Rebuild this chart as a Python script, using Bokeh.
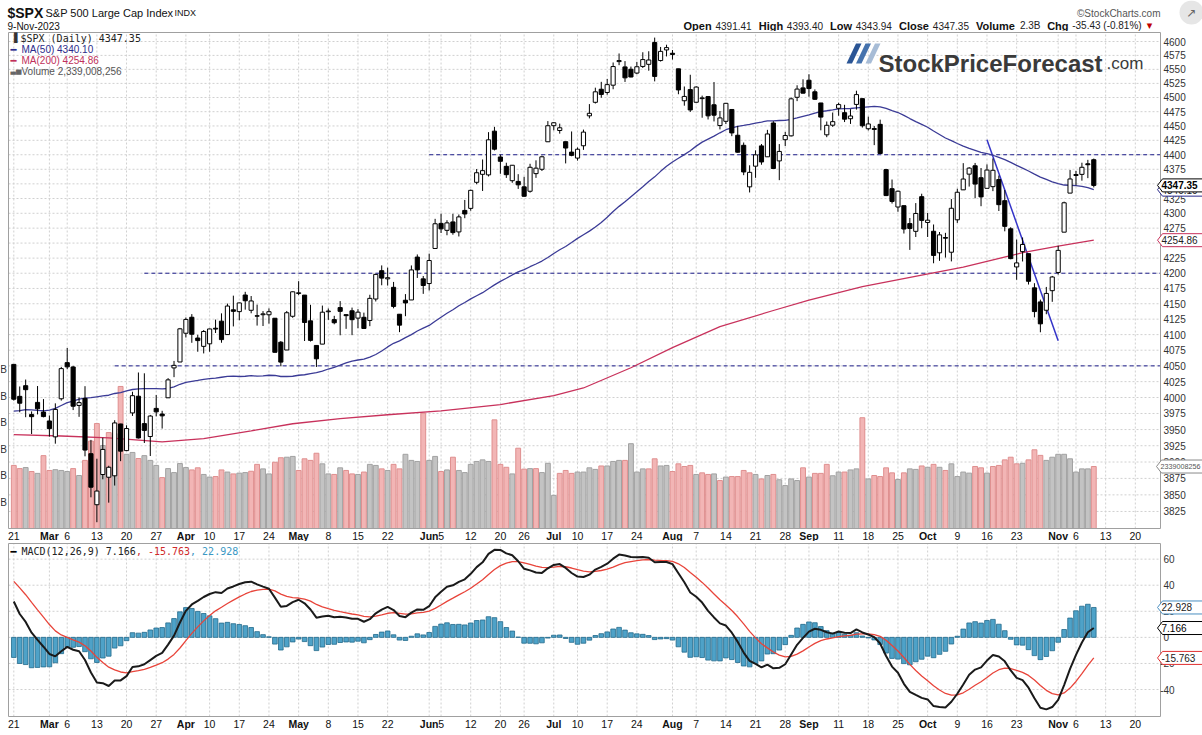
import numpy as np
import pandas as pd
from bokeh.plotting import figure
from bokeh.layouts import column
from bokeh.models import Range1d, LinearScale
from bokeh.core.properties import value
from bokeh.embed import file_html
from bokeh.resources import INLINE

# ---------------------------------------------------------------- data
month_days = [
    ("2023-02", [21, 22, 23, 24, 27, 28]),
    ("2023-03", [1, 2, 3, 6, 7, 8, 9, 10, 13, 14, 15, 16, 17, 20, 21, 22, 23, 24, 27, 28, 29, 30, 31]),
    ("2023-04", [3, 4, 5, 6, 10, 11, 12, 13, 14, 17, 18, 19, 20, 21, 24, 25, 26, 27, 28]),
    ("2023-05", [1, 2, 3, 4, 5, 8, 9, 10, 11, 12, 15, 16, 17, 18, 19, 22, 23, 24, 25, 26, 30, 31]),
    ("2023-06", [1, 2, 5, 6, 7, 8, 9, 12, 13, 14, 15, 16, 20, 21, 22, 23, 26, 27, 28, 29, 30]),
    ("2023-07", [3, 5, 6, 7, 10, 11, 12, 13, 14, 17, 18, 19, 20, 21, 24, 25, 26, 27, 28, 31]),
    ("2023-08", [1, 2, 3, 4, 7, 8, 9, 10, 11, 14, 15, 16, 17, 18, 21, 22, 23, 24, 25, 28, 29, 30, 31]),
    ("2023-09", [1, 5, 6, 7, 8, 11, 12, 13, 14, 15, 18, 19, 20, 21, 22, 25, 26, 27, 28, 29]),
    ("2023-10", [2, 3, 4, 5, 6, 9, 10, 11, 12, 13, 16, 17, 18, 19, 20, 23, 24, 25, 26, 27, 30, 31]),
    ("2023-11", [1, 2, 3, 6, 7, 8, 9]),
]
dates = [f"{m}-{d:02d}" for m, ds in month_days for d in ds]

opens = [4052.35, 4001.83, 4018.60, 3973.24, 3992.36, 3977.19, 3963.34, 3938.68, 3998.02, 4055.15,
         4048.26, 3987.55, 3998.66, 3912.77, 3835.12, 3880.90, 3876.74, 3878.93, 3958.69, 3917.47,
         3975.89, 4002.04, 3959.21, 3939.21, 3982.93, 3974.13, 3999.53, 4046.74, 4056.18, 4102.20,
         4128.03, 4094.50, 4081.15, 4085.20, 4110.29, 4121.72, 4100.04, 4140.11, 4137.17, 4164.26,
         4139.33, 4130.48, 4132.14, 4132.07, 4126.43, 4087.78, 4075.29, 4129.63, 4166.79, 4164.10,
         4122.25, 4082.61, 4084.73, 4136.98, 4124.25, 4143.74, 4132.24, 4138.54, 4126.65, 4127.95,
         4122.85, 4157.68, 4204.15, 4190.78, 4176.80, 4132.96, 4155.71, 4156.16, 4226.71, 4190.74,
         4183.03, 4241.01, 4282.99, 4271.34, 4285.47, 4268.69, 4304.88, 4308.32, 4352.61, 4366.29,
         4365.33, 4440.95, 4396.11, 4380.01, 4355.40, 4354.17, 4344.84, 4337.36, 4367.48, 4374.94,
         4422.44, 4450.48, 4442.04, 4422.62, 4404.54, 4394.23, 4415.55, 4467.69, 4491.50, 4514.61,
         4508.86, 4521.78, 4563.87, 4554.38, 4550.16, 4543.39, 4555.19, 4558.96, 4598.26, 4565.75,
         4584.82, 4578.83, 4550.93, 4494.27, 4513.96, 4491.58, 4498.03, 4501.57, 4487.16, 4450.69,
         4458.13, 4478.87, 4433.79, 4416.32, 4344.88, 4380.28, 4415.33, 4396.44, 4455.16, 4389.38,
         4426.03, 4432.75, 4500.34, 4517.01, 4530.60, 4510.06, 4490.35, 4434.55, 4451.30, 4480.98,
         4473.27, 4462.65, 4487.78, 4497.98, 4445.13, 4445.41, 4452.81, 4374.36, 4341.74, 4310.62,
         4312.88, 4282.63, 4269.65, 4328.18, 4284.52, 4269.75, 4233.83, 4259.31, 4234.79, 4289.02,
         4339.75, 4366.59, 4380.94, 4360.49, 4342.37, 4345.23, 4357.35, 4321.36, 4273.85, 4210.40,
         4235.79, 4232.42, 4175.99, 4152.94, 4139.39, 4171.33, 4201.27, 4268.26, 4334.23, 4364.27,
         4366.21, 4384.37, 4391.41]
highs = [4052.35, 4017.37, 4028.30, 3978.25, 4018.05, 3997.50, 3971.73, 3990.84, 4048.29, 4078.49,
         4050.00, 4000.41, 4017.81, 3934.05, 3905.05, 3937.29, 3894.26, 3964.46, 3958.91, 3956.62,
         4009.08, 4039.49, 4038.20, 3972.74, 4003.83, 3979.20, 4030.59, 4057.85, 4110.75, 4127.66,
         4133.13, 4099.69, 4107.32, 4109.50, 4124.26, 4134.37, 4150.26, 4163.19, 4151.72, 4169.48,
         4162.57, 4148.57, 4138.02, 4142.41, 4126.43, 4089.67, 4138.24, 4170.06, 4186.92, 4164.10,
         4148.30, 4082.61, 4147.02, 4142.30, 4130.35, 4154.28, 4132.80, 4143.74, 4141.25, 4135.54,
         4164.67, 4199.13, 4212.91, 4209.22, 4185.68, 4132.96, 4165.74, 4212.87, 4231.10, 4195.44,
         4232.43, 4290.67, 4299.28, 4288.33, 4299.19, 4298.01, 4322.62, 4340.13, 4375.37, 4391.82,
         4439.20, 4448.47, 4400.15, 4386.22, 4382.25, 4366.55, 4362.06, 4384.42, 4390.35, 4398.39,
         4458.48, 4456.46, 4454.06, 4422.62, 4440.39, 4412.60, 4443.64, 4488.34, 4517.38, 4527.76,
         4532.85, 4562.30, 4578.43, 4564.74, 4555.00, 4563.41, 4580.62, 4582.47, 4607.07, 4590.16,
         4594.22, 4584.62, 4550.93, 4519.49, 4540.34, 4519.84, 4503.31, 4502.44, 4527.37, 4476.23,
         4490.33, 4478.87, 4449.95, 4421.17, 4381.82, 4407.55, 4418.59, 4443.18, 4458.30, 4418.46,
         4439.56, 4500.14, 4521.65, 4532.26, 4541.25, 4514.29, 4490.35, 4457.81, 4473.53, 4490.77,
         4487.11, 4479.39, 4511.99, 4497.98, 4466.36, 4449.85, 4461.03, 4375.70, 4357.40, 4338.51,
         4313.01, 4292.07, 4317.27, 4333.15, 4300.58, 4281.15, 4268.50, 4267.13, 4324.10, 4341.73,
         4385.46, 4378.64, 4385.85, 4377.10, 4383.33, 4393.57, 4364.20, 4339.54, 4276.56, 4255.84,
         4259.38, 4232.42, 4183.60, 4156.70, 4177.47, 4195.55, 4245.64, 4319.72, 4373.62, 4372.21,
         4386.26, 4391.20, 4393.40]
lows = [3995.19, 3976.90, 3969.19, 3943.08, 3973.55, 3968.98, 3939.05, 3928.16, 3995.17, 4044.61,
        3980.31, 3969.76, 3908.70, 3846.32, 3808.86, 3873.63, 3838.24, 3864.11, 3901.27, 3916.89,
        3971.19, 3936.17, 3929.22, 3909.16, 3970.49, 3951.53, 3999.53, 4032.10, 4056.18, 4095.31,
        4086.87, 4072.56, 4069.84, 4072.55, 4102.61, 4086.94, 4099.40, 4113.20, 4123.18, 4140.36,
        4134.49, 4114.57, 4113.86, 4117.77, 4071.38, 4049.35, 4075.29, 4127.18, 4164.12, 4089.72,
        4088.86, 4048.28, 4084.73, 4123.81, 4116.65, 4098.92, 4109.29, 4099.12, 4110.27, 4109.86,
        4113.62, 4153.69, 4180.20, 4179.68, 4142.54, 4103.98, 4129.73, 4156.16, 4192.18, 4166.15,
        4171.64, 4241.01, 4266.82, 4263.09, 4263.96, 4261.07, 4291.70, 4304.37, 4349.31, 4337.85,
        4362.60, 4407.44, 4367.19, 4360.14, 4351.82, 4341.34, 4328.08, 4335.00, 4360.22, 4371.97,
        4422.44, 4442.29, 4436.61, 4385.05, 4397.40, 4389.92, 4408.46, 4463.23, 4489.36, 4499.56,
        4504.90, 4514.59, 4557.48, 4527.56, 4535.79, 4541.29, 4552.42, 4547.58, 4528.56, 4564.01,
        4573.14, 4567.53, 4505.75, 4485.54, 4474.55, 4491.15, 4464.39, 4461.33, 4457.92, 4443.98,
        4453.44, 4432.19, 4403.55, 4364.83, 4335.31, 4360.30, 4382.77, 4396.44, 4375.55, 4356.29,
        4414.98, 4431.68, 4493.59, 4507.39, 4501.35, 4496.01, 4442.38, 4430.46, 4448.38, 4467.89,
        4456.83, 4453.52, 4478.69, 4447.21, 4442.11, 4416.61, 4401.38, 4329.17, 4316.49, 4302.70,
        4265.98, 4238.63, 4260.21, 4274.86, 4260.21, 4216.45, 4220.48, 4225.91, 4219.55, 4283.79,
        4339.64, 4345.34, 4325.43, 4311.97, 4342.37, 4337.54, 4303.84, 4269.69, 4223.03, 4189.22,
        4219.43, 4181.42, 4127.90, 4103.78, 4132.94, 4153.12, 4197.74, 4268.26, 4334.23, 4347.53,
        4355.41, 4359.76, 4343.94]
closes = [3997.34, 3991.05, 4012.32, 3970.04, 3982.24, 3970.15, 3951.39, 3981.35, 4045.64, 4048.42,
          3986.37, 3992.01, 3918.32, 3861.59, 3855.76, 3919.29, 3891.93, 3960.28, 3916.64, 3951.57,
          4002.87, 3936.97, 3948.72, 3970.99, 3977.53, 3971.27, 4027.81, 4050.83, 4109.31, 4124.51,
          4100.60, 4090.38, 4105.02, 4109.11, 4108.94, 4091.95, 4146.22, 4137.64, 4151.32, 4154.87,
          4154.52, 4129.79, 4133.52, 4137.04, 4071.63, 4055.99, 4135.35, 4169.48, 4167.87, 4119.58,
          4090.75, 4061.22, 4136.25, 4138.12, 4119.17, 4137.64, 4130.62, 4124.08, 4136.28, 4109.90,
          4158.77, 4198.05, 4191.98, 4192.63, 4145.58, 4115.24, 4151.28, 4205.45, 4205.52, 4179.83,
          4221.02, 4282.37, 4273.79, 4283.85, 4267.52, 4293.93, 4298.86, 4338.93, 4369.01, 4372.59,
          4425.84, 4409.59, 4388.71, 4365.69, 4381.89, 4348.33, 4328.82, 4378.41, 4376.86, 4396.44,
          4450.38, 4455.59, 4446.82, 4411.59, 4398.95, 4409.53, 4439.26, 4472.16, 4510.04, 4505.42,
          4522.79, 4554.98, 4565.72, 4534.87, 4536.34, 4554.64, 4567.46, 4566.75, 4537.41, 4582.23,
          4588.96, 4576.73, 4513.39, 4501.89, 4478.03, 4518.44, 4499.38, 4467.71, 4468.83, 4464.05,
          4489.72, 4437.86, 4404.33, 4370.36, 4369.71, 4399.77, 4387.55, 4436.01, 4376.31, 4405.71,
          4433.31, 4497.63, 4514.87, 4507.66, 4515.77, 4496.83, 4465.48, 4451.14, 4457.49, 4487.46,
          4461.90, 4467.44, 4505.10, 4450.32, 4453.53, 4443.95, 4402.20, 4330.00, 4320.06, 4337.44,
          4273.53, 4274.51, 4299.70, 4288.05, 4288.39, 4229.45, 4263.75, 4258.19, 4308.50, 4335.66,
          4358.24, 4376.95, 4349.61, 4327.78, 4373.63, 4373.20, 4314.60, 4278.00, 4224.16, 4217.04,
          4247.68, 4186.77, 4137.23, 4117.37, 4166.82, 4193.80, 4237.86, 4317.78, 4358.34, 4365.98,
          4378.38, 4382.78, 4347.35]
# daily volume, billions of shares
volumes_b = [2.38, 2.26, 2.30, 2.15, 2.08, 2.75, 2.19, 2.22, 2.19, 2.15,
             2.26, 2.00, 2.57, 3.30, 3.96, 3.13, 3.62, 3.58, 5.36, 2.80,
             2.87, 2.64, 2.75, 2.57, 2.38, 1.92, 2.26, 2.11, 2.45, 2.30,
             2.21, 2.29, 2.04, 1.94, 1.96, 2.21, 2.13, 2.06, 2.09, 2.11,
             2.16, 2.42, 2.25, 2.06, 2.50, 2.67, 2.69, 2.72, 2.19, 2.63,
             2.57, 2.84, 2.44, 2.06, 2.04, 2.29, 2.19, 2.06, 2.04, 2.13,
             2.42, 2.38, 2.25, 2.19,
             2.42, 2.25, 2.80, 2.57, 2.53, 4.35, 2.57, 2.72, 2.15, 2.21,
             2.69, 2.19, 2.11, 2.42, 2.53, 2.59, 2.53, 4.10, 2.42, 2.31,
             2.06, 3.03, 2.24, 2.26, 2.26, 2.11, 2.46, 1.25, 2.08, 2.19,
             2.08, 2.13, 2.13, 2.29, 2.23, 2.36, 2.36, 2.53, 2.57, 2.57,
             3.20, 2.13, 2.25, 2.25, 2.63, 2.36, 2.38, 2.15, 2.44, 2.34,
             2.38, 2.04, 2.10, 2.04, 2.06, 1.81, 1.94, 1.96, 1.96, 2.19,
             2.10, 2.04,
             1.87, 2.00, 2.04, 1.84, 1.62, 1.87, 1.81, 2.29, 1.94, 2.08,
             2.08, 2.42, 1.99, 2.13, 2.13, 2.21, 2.25, 4.18, 1.87, 2.00,
             1.96, 2.29, 2.10, 1.85, 2.10, 2.25, 2.23, 2.36, 2.31, 2.42,
             2.31, 2.19,
             2.44, 1.96, 2.13, 2.09, 2.34, 2.29, 2.09, 2.34, 2.38, 2.59,
             2.69, 2.44, 2.46, 2.59, 2.97, 2.76, 2.57, 2.69, 2.80, 2.80,
             2.63, 2.13, 2.25, 2.25, 2.339]
# closes of the 49 sessions before the first bar (for MA50 / MACD)
prior_closes = [3963.51, 3934.38, 3990.56, 4019.65, 3995.32, 3895.75, 3852.36, 3817.66, 3821.62, 3878.44,
                3822.39, 3844.82, 3829.25, 3783.22, 3849.28, 3839.50,
                3824.14, 3852.97, 3808.10, 3895.08, 3892.09, 3919.25, 3969.61, 3983.17, 3999.09, 3990.97,
                3928.86, 3898.85, 3972.61, 4019.81, 4016.95, 4016.22, 4060.43, 4070.56, 4017.77, 4076.60,
                4119.21, 4179.76, 4136.48, 4111.08, 4164.00, 4117.86, 4081.50, 4090.46, 4137.29, 4136.13,
                4147.60, 4090.41, 4079.09]
# MA(200) (session number, value)
ma200_session = [0, 8, 16, 25, 32, 40, 47, 55, 63, 72, 82, 91, 96, 104, 111, 119, 128, 134, 143, 153, 160, 170, 176, 182]
ma200_value = [3942, 3940, 3937, 3931, 3936, 3948, 3959, 3967, 3973, 3979, 3989, 4003, 4015, 4047, 4079, 4113,
               4139, 4156, 4178, 4197, 4210, 4234, 4245, 4254.86]
ma50_last = 4340.10
volume_last = "2,339,008,256"
macd_last = (7.166, -15.763, 22.928)

tick_dates = ["2023-02-21", "2023-03-01", "2023-03-06", "2023-03-13", "2023-03-20", "2023-03-27",
              "2023-04-03", "2023-04-10", "2023-04-17", "2023-04-24", "2023-05-01", "2023-05-08",
              "2023-05-15", "2023-05-22", "2023-06-01", "2023-06-05", "2023-06-12", "2023-06-20",
              "2023-06-26", "2023-07-03", "2023-07-10", "2023-07-17", "2023-07-24", "2023-08-01",
              "2023-08-07", "2023-08-14", "2023-08-21", "2023-08-28", "2023-09-01", "2023-09-11",
              "2023-09-18", "2023-09-25", "2023-10-02", "2023-10-09", "2023-10-16", "2023-10-23",
              "2023-11-01", "2023-11-06", "2023-11-13", "2023-11-20"]
tick_text = ["21", "Mar", "6", "13", "20", "27", "Apr", "10", "17", "24", "May", "8", "15", "22",
             "Jun", "5", "12", "20", "26", "Jul", "10", "17", "24", "Aug", "7", "14", "21", "28",
             "Sep", "11", "18", "25", "Oct", "9", "16", "23", "Nov", "6", "13", "20"]
month_names = {"Mar", "Apr", "May", "Jun", "Jul", "Aug", "Sep", "Oct", "Nov"}

support_levels = [4400, 4200, 4050]
support_from = ["2023-06-01", "2023-03-23", "2023-03-16"]
trend_dates = ["2023-10-16", "2023-11-01"]
trend_prices = [4426.0, 4090.0]
price_ticks = list(range(3825, 4601, 25))
macd_ticks = [-40, -20, 0, 20, 40, 60]
volume_ticks_b = [1, 2, 3, 4, 5, 6]

assert len(dates) == len(opens) == len(highs) == len(lows) == len(closes) == len(volumes_b) == 183

# ---------------------------------------------------------------- derived
n = len(dates)
idx = np.arange(n)
last_day = np.datetime64(dates[-1])


def session_of(d):
    if d in dates:
        return dates.index(d)
    return n - 1 + int(np.busday_count(last_day, np.datetime64(d)))


allc = pd.Series(prior_closes + closes)
ma50 = allc.rolling(50).mean().iloc[-n:].to_numpy()
ema12 = allc.ewm(span=12, adjust=False).mean()
ema26 = allc.ewm(span=26, adjust=False).mean()
macd_all = ema12 - ema26
sig_all = macd_all.ewm(span=9, adjust=False).mean()
macd = macd_all.iloc[-n:].to_numpy()
sig = sig_all.iloc[-n:].to_numpy()
hist = macd - sig

o = np.array(opens); c = np.array(closes); h = np.array(highs); l = np.array(lows)
prevc = np.concatenate([[prior_closes[-1]], c[:-1]])
up_body = c >= o
vol_down = c < prevc
tick_pos = [session_of(d) for d in tick_dates]

# ---------------------------------------------------------------- geometry (page pixels)
W = 1202
X0, DX = 13.3, 5.934              # page x of first session, px per session
FR_L, FR_R = 8, 1160               # plot frame left / right
HDR_H = 31
P_FIG_TOP, P_FIG_BOT = 31, 541     # price figure
P_FR_TOP, P_FR_BOT = 32, 528       # price frame
PTOP, PBOT = 4616.3, 3799.5        # price at frame top / bottom (log)
VOL0_Y, VOL_PX = 528, 26.5         # volume baseline, px per billion
M_FIG_TOP, M_FIG_BOT = 541, 735
M_FR_TOP, M_FR_BOT = 543, 716
M_TOP, M_BOT = 72.0, -60.7
FONT = "Liberation Sans"
MONO = "DejaVu Sans Mono"
GRID = "#d0d0d0"
KLOG = np.log(PTOP / PBOT) / (P_FR_BOT - P_FR_TOP)


def sx(px):
    return (px - X0) / DX


def py(px):          # page y -> price
    return float(PTOP * np.exp(-(px - P_FR_TOP) * KLOG))


def ypp(v):          # price -> page y
    return P_FR_TOP + np.log(PTOP / v) / KLOG


def vy(px):          # page y -> volume (B)
    return (VOL0_Y - px) / VOL_PX


def my(px):          # page y -> macd value
    return M_TOP - (px - M_FR_TOP) / (M_FR_BOT - M_FR_TOP) * (M_TOP - M_BOT)


def ymp(v):
    return M_FR_TOP + (M_TOP - v) / (M_TOP - M_BOT) * (M_FR_BOT - M_FR_TOP)


XR = Range1d(sx(0), sx(W))


def txt(fig, x, y, t, size, color="#111", style="normal", align="left", font=FONT, baseline="middle", **kw):
    fig.text(x=[x], y=[y], text=[t], text_font=value(font), text_font_size=value(size),
             text_color=color, text_font_style=style, text_align=align, text_baseline=baseline, **kw)


def value_box(fig, page_y, text, border, to_y, color="#222", style="normal", yr="default",
              size="10px", x0=1157):
    x1 = 1205
    ys = [page_y, page_y - 6.5, page_y - 6.5, page_y + 6.5, page_y + 6.5]
    xs = [x0, x0 + 5, x1, x1, x0 + 5]
    fig.patch(x=[sx(v) for v in xs], y=[to_y(v) for v in ys], fill_color="white",
              line_color=border, line_width=1, y_range_name=yr)
    txt(fig, sx(x0 + 4), to_y(page_y), text, size, color=color, style=style, y_range_name=yr)


# ---------------------------------------------------------------- header
hd = figure(width=W, height=HDR_H, x_range=Range1d(0, W), y_range=Range1d(HDR_H, 0),
            x_axis_location=None, y_axis_location=None, toolbar_location=None,
            output_backend="svg", min_border=0, outline_line_color=None)
hd.grid.visible = False

txt(hd, 7, 12, "$SPX", "14px", style="bold")
txt(hd, 45, 12, "S&P 500 Large Cap Index", "11px")
txt(hd, 174, 12, "INDX", "9px")
txt(hd, 7, 25.5, "9-Nov-2023", "10px")
txt(hd, 1160, 12.5, "\u00a9StockCharts.com", "10px", color="#555", align="right")
hd.scatter(x=[1191], y=[12], size=24, marker="circle", fill_color="#e6e6e6", line_color=None)
txt(hd, 1191, 12.5, "\u2197", "12px", color="#666", align="center", font="DejaVu Sans")

WR = {ch: 0.556 for ch in "0123456789"}
WR.update({".": 0.278, ",": 0.278, "-": 0.333, "(": 0.333, ")": 0.333, "%": 0.889, " ": 0.278, "B": 0.667})
WB = {"O": .778, "p": .611, "e": .556, "n": .611, "H": .722, "i": .278, "g": .611, "h": .611, "L": .611,
      "o": .611, "w": .778, "C": .722, "l": .278, "s": .556, "V": .667, "u": .611, "m": .889}


def tw(s, size, table):
    return sum(table.get(ch, 0.55) for ch in s) * size * 1.03


chg = closes[-1] - closes[-2]
pct = chg / closes[-2] * 100
hdr_labels = ["Open", "High", "Low", "Close", "Volume", "Chg"]
hdr_values = [f"{opens[-1]:.2f}", f"{highs[-1]:.2f}", f"{lows[-1]:.2f}", f"{closes[-1]:.2f}",
              f"{volumes_b[-1]:.1f}B", f"{chg:.2f} ({pct:.2f}%)"]
xx = 683.0
for lab_, val_ in zip(hdr_labels, hdr_values):
    txt(hd, xx, 25, lab_, "11px", style="bold")
    xx += tw(lab_, 11, WB) + 3
    txt(hd, xx, 25, val_, "10px", color="#222")
    xx += tw(val_, 10, WR) + 6
txt(hd, xx - 3, 25, "\u25be", "11px", color="#c00000", font="DejaVu Sans")

# ---------------------------------------------------------------- price panel
p = figure(width=W, height=P_FIG_BOT - P_FIG_TOP, x_range=XR,
           y_range=Range1d(py(P_FIG_BOT), py(P_FIG_TOP)), y_axis_type="log",
           x_axis_location=None, y_axis_location=None, toolbar_location=None, output_backend="svg",
           min_border=0, outline_line_color=None, background_fill_color="white")
p.grid.visible = False
p.extra_y_ranges = {"vol": Range1d(vy(P_FIG_BOT), vy(P_FIG_TOP))}
p.extra_y_scales = {"vol": LinearScale()}

# grid
p.segment(x0=sx(FR_L), x1=sx(FR_R), y0=price_ticks, y1=price_ticks, line_color=GRID, line_dash="2 2")
p.segment(x0=tick_pos, x1=tick_pos, y0=PBOT, y1=PTOP, line_color=GRID, line_dash="2 2")

# volume
p.vbar(x=idx, top=volumes_b, width=0.82, bottom=0, y_range_name="vol",
       fill_color=np.where(vol_down, "#f2b5b5", "#c3c3c3").tolist(),
       line_color=np.where(vol_down, "#df8f8f", "#a2a2a2").tolist(), line_width=1)

# watermark
txt(p, sx(878), py(63), "StockPriceForecast", "24px", color="#3a3a3a", style="bold", baseline="alphabetic")
txt(p, sx(1106), py(63), ".com", "17px", color="#3a3a3a", baseline="alphabetic")
for i, col in enumerate(["#2b5595", "#4572ad", "#a7bcd6"]):
    bx = 846 + 9.5 * i
    p.patch(x=[sx(bx), sx(bx + 5.5), sx(bx + 15), sx(bx + 9.5)],
            y=[py(63), py(63), py(43), py(43)], fill_color=col, line_color=None)

# support lines / trend line
for lev, d0 in zip(support_levels, support_from):
    p.segment(x0=[session_of(d0)], y0=[lev], x1=[sx(FR_R)], y1=[lev], line_color="#1c1c8a",
              line_dash="4 3", line_width=1)
p.line(x=[session_of(d) for d in trend_dates], y=trend_prices, line_color="#3535c8", line_width=1.5)

# moving averages
p.line(x=idx, y=ma50, line_color="#3b3b96", line_width=1.3)
p.line(x=ma200_session, y=ma200_value, line_color="#c8325c", line_width=1.3)

# candles
p.segment(x0=idx, y0=l, x1=idx, y1=h, line_color="black", line_width=1)
p.vbar(x=idx, top=np.maximum(o, c), bottom=np.minimum(o, c), width=0.7,
       fill_color=np.where(up_body, "white", "black").tolist(), line_color="black", line_width=1)

# frame
p.quad(left=sx(FR_L), right=sx(FR_R), bottom=PBOT, top=PTOP, fill_color=None, line_color="#a0a0a0")

# legend text
txt(p, sx(20), py(37.5), f"$SPX (Daily) {closes[-1]:.2f}", "10px", color="#222", font=MONO)
txt(p, sx(10), py(37.5), "\u2590", "9px", color="#333", font="DejaVu Sans")
for yy, t, col in [(49, f"MA(50) {ma50_last:.2f}", "#2c2c8c"), (60, f"MA(200) {ma200_value[-1]:.2f}", "#c0305a")]:
    txt(p, sx(10), py(yy), "\u2501", "10px", color=col, font="DejaVu Sans")
    txt(p, sx(21), py(yy), t, "10px", color=col)
txt(p, sx(10), py(70.5), "\u2583\u2585", "7px", color="#666", font="DejaVu Sans")
txt(p, sx(21), py(70.5), f"Volume {volume_last}", "10px", color="#555")

# right axis tick labels
for t in price_ticks:
    txt(p, sx(1163), t, str(t), "10px", color="#333")
# left volume axis (cut off at the page edge, only the unit shows)
for v in volume_ticks_b:
    txt(p, sx(6.5), v, "B", "10px", color="#333", align="right", y_range_name="vol")

# value boxes on the right
value_box(p, VOL0_Y - volumes_b[-1] * VOL_PX, volume_last.replace(",", ""), "#8a8a8a", vy,
          color="#555", yr="vol", size="7.2px", x0=1156)
value_box(p, ypp(ma50_last), f"{ma50_last:.2f}", "#2c2c8c", py)
value_box(p, ypp(closes[-1]), f"{closes[-1]:.2f}", "black", py, color="black", style="bold")
value_box(p, ypp(ma200_value[-1]), f"{ma200_value[-1]:.2f}", "#c8325c", py)

# date labels between panels
for tp, tt in zip(tick_pos, tick_text):
    txt(p, tp, py(535.5), tt, "10.5px", color="#111", align="center",
        style="bold" if tt in month_names else "normal")

# ---------------------------------------------------------------- MACD panel
m = figure(width=W, height=M_FIG_BOT - M_FIG_TOP, x_range=XR, y_range=Range1d(my(M_FIG_BOT), my(M_FIG_TOP)),
           x_axis_location=None, y_axis_location=None, toolbar_location=None, output_backend="svg",
           min_border=0, outline_line_color=None, background_fill_color="white")
m.grid.visible = False
m.segment(x0=sx(FR_L), x1=sx(FR_R), y0=macd_ticks, y1=macd_ticks, line_color=GRID, line_dash="2 2")
m.segment(x0=tick_pos, x1=tick_pos, y0=M_BOT, y1=M_TOP, line_color=GRID, line_dash="2 2")

m.vbar(x=idx, top=np.maximum(hist, 0), bottom=np.minimum(hist, 0), width=0.78,
       fill_color="#4ea2c8", line_color="#22698c", line_width=0.8)
m.line(x=idx, y=sig, line_color="#e8443a", line_width=1.3)
m.line(x=idx, y=macd, line_color="#1a1a1a", line_width=2)
m.quad(left=sx(FR_L), right=sx(FR_R), bottom=M_BOT, top=M_TOP, fill_color=None, line_color="#a0a0a0")

txt(m, sx(10), my(550.5), "\u2501", "10px", color="black", font="DejaVu Sans")
cw = 6.02
s1 = f"MACD(12,26,9) {macd_last[0]:.3f}"
s2 = f", {macd_last[1]:.3f}"
s3 = f", {macd_last[2]:.3f}"
xm = 21
for s, col in [(s1, "#222"), (s2, "#d02a2a"), (s3, "#3a98c4")]:
    txt(m, sx(xm), my(550.5), s, "10px", color=col, font=MONO)
    xm += cw * len(s)

for t in macd_ticks:
    txt(m, sx(1163 - (3.3 if t < 0 else 0)), t, str(t), "10px", color="#333")

value_box(m, ymp(macd_last[2]), f"{macd_last[2]:.3f}", "#4a8fc0", my)
value_box(m, ymp(macd_last[0]), f"{macd_last[0]:.3f}", "black", my, color="black")
value_box(m, ymp(macd_last[1]), f"{macd_last[1]:.3f}", "#e03030", my)

for tp, tt in zip(tick_pos, tick_text):
    txt(m, tp, my(723.5), tt, "10.5px", color="#111", align="center",
        style="bold" if tt in month_names else "normal")

layout = column(hd, p, m, spacing=0)
open("out.html", "w").write(file_html(layout, INLINE))
